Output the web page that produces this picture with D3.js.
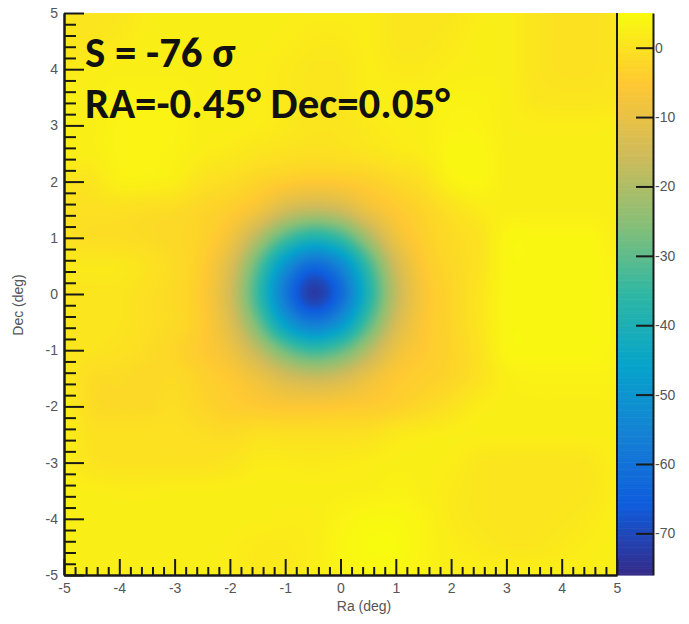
<!DOCTYPE html>
<html>
<head>
<meta charset="utf-8">
<script src="https://cdnjs.cloudflare.com/ajax/libs/d3/7.8.5/d3.min.js"></script>
<style>
  body { margin: 0; background: #fff; }
  svg text { font-family: "Liberation Sans", Arial, sans-serif; }
</style>
</head>
<body>
<svg id="chart" width="689" height="624"></svg>
<script>
// grid nodes (deg) and significance values
var raNodes  = [-5, -4.5, -4, -3.5, -3, -2.5, -2, -1.5, -1, -0.5, 0, 0.5, 1, 1.5, 2, 2.5, 3, 3.5, 4, 4.5, 5];
var decNodes = [5, 4.5, 4, 3.5, 3, 2.5, 2, 1.5, 1, 0.5, 0, -0.5, -1, -1.5, -2, -2.5, -3, -3.5, -4, -4.5, -5];
var sigma = [
  [0.5, 0.5, 1, 2, 2.5, 2.5, 2.5, 2.5, 2.5, 2, 2, 2, 1, 1, 1, 2, 2.5, 0.5, 0, 0, 0.5],
  [0.5, 1, 1.5, 2.5, 2.5, 2.5, 2.5, 2.5, 2, 1.5, 1.5, 2, 1, 1, 1.5, 2.5, 2.5, 0.5, 0, 0, 0.5],
  [1.5, 2, 2.5, 2.5, 2.5, 2.5, 2, 2, 1.5, 1, 1, 2, 1.5, 1.5, 2, 2.5, 2.5, 0.5, 0, 0, 0.5],
  [2.5, 2.5, 3, 3, 3, 2.5, 2, 2, 1.5, 1, 1, 2, 2.5, 2.5, 3, 3, 2.5, 1, 0.5, 0.5, 1],
  [2.5, 2.5, 3.5, 3.5, 3.5, 2.5, 2.3, 2, 1.5, 0.5, 0.5, 1.5, 2, 2.3, 3.5, 3.5, 2.5, 2, 2, 2, 2.5],
  [2.5, 2.5, 3.5, 3.5, 3.2, 2, 1.5, 0.5, 0, -0.3, 0, 0.5, 1.5, 2, 4, 4.2, 2.5, 2.5, 2.5, 2.5, 2.5],
  [0.5, 0.5, 3, 3.1, 2.6, 0, -1, -2.5, -4, -5, -4.5, -3.5, -2, -0.5, 3.5, 4, 2.5, 2.5, 2.5, 2.5, 2.5],
  [-0.5, -0.5, -0.5, -1, -1.5, -2.5, -4, -7.2, -14, -17, -15, -8.4, -5, -2.5, -0.5, 1.7, 2.5, 2.5, 2.5, 2.5, 2.5],
  [-0.5, -1, -1, -1.5, -2, -3, -7.5, -19, -32.2, -39.6, -34.6, -21.5, -8.4, -3.5, -1.5, 0, 4, 4.2, 4.2, 4, 2.5],
  [1.5, 1.5, 1.5, 0.3, -1.5, -4, -12.5, -30.3, -52, -63.8, -55.8, -34.6, -15, -5, -2, -0.2, 4, 4.2, 4.2, 4, 3],
  [0.5, 0.5, 0.5, -0.7, -1.8, -4.5, -14.5, -34.6, -59.6, -75.5, -63.8, -39.6, -17.5, -6, -2.5, 0.5, 4, 4.2, 4.2, 4, 3.5],
  [0.5, 0.5, 0.5, -0.6, -1.5, -4.2, -12, -28.4, -49, -59.6, -52, -32.2, -14.5, -5.5, -2.5, 0.5, 4, 4.2, 4.2, 4, 3.5],
  [0.5, 0.5, 0, -1, -2.5, -5, -8.3, -17.5, -28.4, -34.6, -30.3, -19.5, -8.7, -5, -3, 0, 4, 4.2, 4.2, 4, 3.5],
  [1.5, -1.5, -1.5, -2, -1.4, -3.2, -4.9, -8.2, -13.5, -15.5, -14, -8.6, -4.9, -3.5, -2.5, 0, 2.5, 3, 3, 3, 3],
  [2, -1.5, -1.7, -1.8, -0.8, -2.5, -4, -5, -5.5, -5.5, -5, -4.5, -3.5, -2, 0, 2.1, 2.5, 2.5, 2.5, 2.5, 2.5],
  [2, 0, 0, 0, -0.3, -0.8, -1.5, 0, -0.5, -0.5, -0.3, 0, 1.5, 2, 2.5, 2.5, 2.5, 2.5, 2.5, 2.5, 2.5],
  [2, 0.3, 0, 0, 0, 0, 0.5, 1.8, 1.7, 1.5, 1.7, 2, 2.5, 2.5, 2, 1, 0.5, 0.5, 0.5, 1, 2.5],
  [2.5, 2.5, 2, 2, 2.5, 2.5, 2.5, 2.5, 2.5, 2.5, 2.5, 2.5, 3, 2.5, 1.5, 1, 0.5, 0.5, 0.5, 1, 2],
  [2.5, 2.5, 2.5, 2.5, 2.5, 2.5, 2.5, 2.5, 2, 2, 3.5, 4.5, 4.5, 3.5, 1.5, 1, 0.5, 0.5, 1, 1.5, 2.5],
  [2.5, 2.5, 2.5, 2.5, 2.5, 2.5, 2, 1.5, 1.5, 2, 4, 5, 5, 3.5, 2, 1.5, 1, 1, 1.5, 2, 2.5],
  [2.5, 2.5, 2.5, 2.5, 2.5, 2.5, 2, 1.5, 1.5, 2, 3, 4, 4, 3, 2.5, 2.5, 2.5, 2.5, 2.5, 2.5, 2.5]
];
var zMin = -76, zMax = 5;
var xTicks = [-5, -4, -3, -2, -1, 0, 1, 2, 3, 4, 5];
var yTicks = [-5, -4, -3, -2, -1, 0, 1, 2, 3, 4, 5];
var zTicks = [0, -10, -20, -30, -40, -50, -60, -70];
var label1 = "S = -76 σ";
var label2 = "RA=-0.45° Dec=0.05°";

// ROOT kBird palette
var birdStops  = [0, 0.125, 0.25, 0.375, 0.5, 0.625, 0.75, 0.875, 1];
var birdColors = ["#352a87", "#0f5cdd", "#1481d4", "#06a4ca", "#2eb7a4", "#87bf77", "#d1bb59", "#fec832", "#f9fb0e"];

var svg = d3.select("#chart");
var frame = {left: 64, right: 617, top: 13, bottom: 575, bar: 653};

var x = d3.scaleLinear().domain([-5, 5]).range([frame.left, frame.right]);
var y = d3.scaleLinear().domain([-5, 5]).range([frame.bottom, frame.top]);
var z = d3.scaleLinear().domain([zMin, zMax]).range([frame.bottom, frame.top]);
var color = d3.scaleLinear()
    .domain(birdStops.map(function(s) { return zMin + s * (zMax - zMin); }))
    .range(birdColors)
    .clamp(true);

// ---- heat map: paint node values, let the canvas smooth them, then colour
var nx = raNodes.length, ny = decNodes.length;
var enc = d3.scaleLinear().domain([zMin, zMax]).range([0, 255]).clamp(true);
var src = document.createElement("canvas");
src.width = nx; src.height = ny;
var sctx = src.getContext("2d");
var sImg = sctx.createImageData(nx, ny);
for (var j = 0; j < ny; j++) {
  for (var i = 0; i < nx; i++) {
    var k = (j * nx + i) * 4, g = Math.round(enc(sigma[j][i]));
    sImg.data[k] = g; sImg.data[k + 1] = g; sImg.data[k + 2] = g; sImg.data[k + 3] = 255;
  }
}
sctx.putImageData(sImg, 0, 0);

var pw = Math.round(x(5) - x(-5)), ph = Math.round(y(-5) - y(5));
var big = document.createElement("canvas");
big.width = pw; big.height = ph;
var bctx = big.getContext("2d");
bctx.imageSmoothingEnabled = true;
bctx.imageSmoothingQuality = "high";
var half = (raNodes[1] - raNodes[0]) / 2;
bctx.drawImage(src,
  x(raNodes[0] - half) - x(-5), y(decNodes[0] + half) - y(5),
  x(raNodes[nx - 1] + half) - x(raNodes[0] - half),
  y(decNodes[ny - 1] - half) - y(decNodes[0] + half));

var lut = d3.range(256).map(function(g) { return d3.rgb(color(enc.invert(g))); });
var bImg = bctx.getImageData(0, 0, pw, ph);
for (var p = 0; p < bImg.data.length; p += 4) {
  var c = lut[bImg.data[p]];
  bImg.data[p] = c.r; bImg.data[p + 1] = c.g; bImg.data[p + 2] = c.b; bImg.data[p + 3] = 255;
}
bctx.putImageData(bImg, 0, 0);

svg.append("image")
    .attr("x", x(-5)).attr("y", y(5))
    .attr("width", pw).attr("height", ph)
    .attr("preserveAspectRatio", "none")
    .attr("href", big.toDataURL());

// ---- colour bar
var zSteps = d3.range(zMin, zMax, 0.25);
svg.append("g").selectAll("rect")
    .data(zSteps)
    .enter().append("rect")
    .attr("x", frame.right)
    .attr("width", frame.bar - frame.right)
    .attr("y", function(d) { return z(d + 0.25); })
    .attr("height", function(d) { return z(d) - z(d + 0.25) + 0.6; })
    .attr("fill", function(d) { return color(d + 0.125); });

// ---- axes
var fmt = function(d) { return String(d); };
var minor = d3.range(-50, 51, 2).filter(function(d) { return d % 10 !== 0; }).map(function(d) { return d / 10; });

function styleAxis(g) {
  g.selectAll("path.domain").attr("stroke", "#1a1a1a").attr("stroke-width", 2);
  g.selectAll(".tick line").attr("stroke", "#1a1a1a").attr("stroke-width", 2);
  g.selectAll("text").attr("fill", "#555").style("font-size", "14px");
}

svg.append("g").attr("transform", "translate(0," + frame.bottom + ")")
    .call(d3.axisBottom(x).tickValues(minor).tickSizeInner(-8).tickSizeOuter(0).tickFormat(""))
    .call(styleAxis);
svg.append("g").attr("transform", "translate(0," + frame.bottom + ")")
    .call(d3.axisBottom(x).tickValues(xTicks).tickSizeInner(-16).tickSizeOuter(0).tickPadding(8).tickFormat(fmt))
    .call(styleAxis);

svg.append("g").attr("transform", "translate(" + frame.left + ",0)")
    .call(d3.axisLeft(y).tickValues(minor).tickSizeInner(-12).tickSizeOuter(0).tickFormat(""))
    .call(styleAxis);
svg.append("g").attr("transform", "translate(" + frame.left + ",0)")
    .call(d3.axisLeft(y).tickValues(yTicks).tickSizeInner(-20).tickSizeOuter(0).tickPadding(6).tickFormat(fmt))
    .call(styleAxis);

svg.append("line")
    .attr("x1", frame.right).attr("x2", frame.right).attr("y1", frame.top).attr("y2", frame.bottom)
    .attr("stroke", "#1a1a1a").attr("stroke-width", 2);

svg.append("g").attr("transform", "translate(" + frame.bar + ",0)")
    .call(d3.axisRight(z).tickValues(zTicks).tickSizeInner(-17).tickSizeOuter(0).tickPadding(2).tickFormat(fmt))
    .call(styleAxis);

// axis titles
svg.append("text")
    .attr("x", 364).attr("y", 611)
    .attr("text-anchor", "middle")
    .attr("fill", "#555").style("font-size", "14px")
    .text("Ra (deg)");
svg.append("text")
    .attr("transform", "translate(23,305) rotate(-90)")
    .attr("text-anchor", "middle")
    .attr("fill", "#555").style("font-size", "14px")
    .text("Dec (deg)");

// peak annotation
var t1 = svg.append("text").attr("x", 85).attr("y", 67).text(label1);
var t2 = svg.append("text").attr("x", 85).attr("y", 118).text(label2);
[t1, t2].forEach(function(t) {
  t.style("font-family", "Carlito, Lato, 'Open Sans', sans-serif")
   .style("font-weight", "bold").style("font-size", "40px").attr("fill", "#111");
});
var fs = 40 * 365 / t2.node().getComputedTextLength();
t1.style("font-size", fs + "px");
t2.style("font-size", fs + "px");
</script>
</body>
</html>
